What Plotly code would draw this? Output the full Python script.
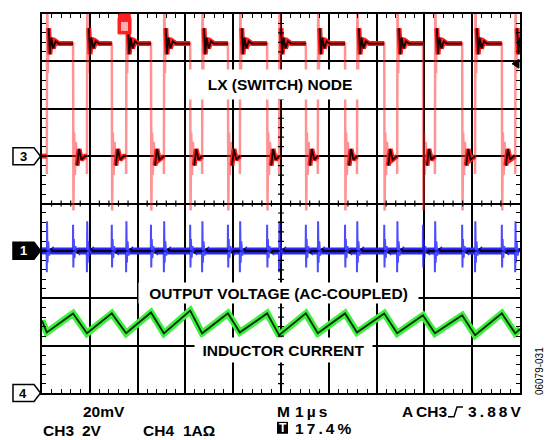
import plotly.graph_objects as go

# LX node edge times in µs (1 µs/div, 10 divisions across)
rise_us = [0.10, 0.94, 1.76, 2.55, 3.35, 4.14, 4.96, 5.77, 6.59, 7.43, 8.22, 9.06, 9.90]
fall_us = [0.65, 1.46, 2.28, 3.10, 3.89, 4.71, 5.52, 6.34, 7.16, 7.97, 8.79, 9.62]

# CH3, LX node (volts)
lx_high_v = 4.75
lx_low_v = 0.0
lx_rise_ring = [(0.000, -0.75), (0.008, 7.5), (0.022, 3.5), (0.040, 5.4), (0.065, 4.3),
                (0.095, 5.0), (0.135, 4.55), (0.185, 4.85), (0.250, 4.75)]
lx_fall_ring = [(0.008, -2.3), (0.022, 1.0), (0.038, -0.8), (0.058, 0.6), (0.085, -0.4),
                (0.125, 0.3), (0.175, -0.15), (0.250, 0.0)]

# CH1, output ripple (mV), spikes at each edge
vout_rise_spike = [(0.000, -9), (0.006, 12.5), (0.016, -5), (0.030, 4), (0.050, -2), (0.080, 1), (0.120, 0)]
vout_fall_spike = [(0.000, 11), (0.006, -7), (0.016, 5), (0.030, -3), (0.050, 2), (0.080, -1), (0.120, 0)]

# CH4, inductor current (A): valleys at LX rising edges, peaks at falling edges
il_start_a = 1.53
il_valley_a = [1.28, 1.26, 1.26, 1.26, 1.26, 1.28, 1.22, 1.26, 1.28, 1.26, 1.26, 1.22, 1.26]
il_peak_a = [1.68, 1.68, 1.70, 1.74, 1.68, 1.68, 1.68, 1.68, 1.68, 1.64, 1.64, 1.68]
il_end_a = 1.35

# channel ground positions (div from bottom) and scales
CH3_GND, CH3_VDIV = 5, 2.0
CH1_GND, CH1_VDIV = 3, 20.0
CH4_GND, CH4_VDIV = 0, 1.0

events = sorted([(t, "r") for t in rise_us] + [(t, "f") for t in fall_us])


def lx_wave():
    xs, ys = [0.0], [lx_low_v]
    cx, cy = [0.0], [lx_low_v]
    for t, kind in events:
        level = lx_low_v if kind == "r" else lx_high_v
        ring = lx_rise_ring if kind == "r" else lx_fall_ring
        core_from = 3 if kind == "r" else 4
        xs.append(t)
        ys.append(level)
        cx += [t, None]
        cy += [level, None]
        for i, (dt, v) in enumerate(ring):
            xs.append(t + dt)
            ys.append(v)
            if i >= core_from:
                cx.append(t + dt)
                cy.append(v)
    xs.append(10.3)
    ys.append(ys[-1])
    cx.append(10.3)
    cy.append(cy[-1])
    div = lambda a: [None if v is None else CH3_GND + v / CH3_VDIV for v in a]
    return xs, div(ys), cx, div(cy)


def vout_wave():
    xs, ys = [0.0], [0.0]
    cx, cy = [0.0], [0.0]
    for t, kind in events:
        spike = vout_rise_spike if kind == "r" else vout_fall_spike
        xs.append(t - 0.004)
        ys.append(0.0)
        cx += [t - 0.004, None]
        cy += [0.0, None]
        for dt, v in spike:
            xs.append(t + dt)
            ys.append(v)
            if abs(v) <= 1:
                cx.append(t + dt)
                cy.append(v)
    xs.append(10.0)
    ys.append(0.0)
    cx.append(10.0)
    cy.append(0.0)
    div = lambda a: [None if v is None else CH1_GND + v / CH1_VDIV for v in a]
    return xs, div(ys), cx, div(cy)


def il_wave():
    xs, ys = [0.0], [il_start_a]
    vi = pi = 0
    for t, kind in events:
        xs.append(t)
        if kind == "r":
            ys.append(il_valley_a[vi])
            vi += 1
        else:
            ys.append(il_peak_a[pi])
            pi += 1
    xs.append(10.0)
    ys.append(il_end_a)
    return xs, [CH4_GND + v / CH4_VDIV for v in ys]


fig = go.Figure()

ix, iy = il_wave()
fig.add_trace(go.Scatter(x=ix, y=iy, mode="lines", line=dict(color="#3df03d", width=7)))
fig.add_trace(go.Scatter(x=ix, y=iy, mode="lines", line=dict(color="#0a2a0a", width=1.8)))

vx, vy, vcx, vcy = vout_wave()
fig.add_trace(go.Scatter(x=vx, y=vy, mode="lines", line=dict(color="rgba(30,30,255,0.8)", width=2)))
fig.add_trace(go.Scatter(x=vcx, y=vcy, mode="lines", line=dict(color="#2828ff", width=7)))
fig.add_trace(go.Scatter(x=vcx, y=vcy, mode="lines", line=dict(color="#05051a", width=2.5)))

lx, ly, lcx, lcy = lx_wave()
fig.add_trace(go.Scatter(x=lx, y=ly, mode="lines", line=dict(color="rgba(255,40,40,0.5)", width=2.5)))
fig.add_trace(go.Scatter(x=lcx, y=lcy, mode="lines", line=dict(color="#ff1a1a", width=5)))
fig.add_trace(go.Scatter(x=lcx, y=lcy, mode="lines", line=dict(color="#1a0000", width=1.8)))

axis_style = dict(
    showgrid=True, gridcolor="black", gridwidth=1.5, zeroline=False,
    showline=True, linecolor="black", linewidth=2, mirror="ticks",
    ticks="", showticklabels=False, dtick=1, fixedrange=True,
    minor=dict(ticks="inside", ticklen=4, tickwidth=1.2, tickcolor="black", dtick=0.2, showgrid=False),
)
fig.update_xaxes(range=[0, 10], **axis_style)
fig.update_yaxes(range=[0, 8], **axis_style)

# ticks on the centre cross
cross = ""
for i in range(1, 50):
    if i % 5:
        x = i * 0.2
        cross += f"M{x:.2f},3.937 L{x:.2f},4.063 "
for i in range(1, 40):
    if i % 5:
        y = i * 0.2
        cross += f"M4.937,{y:.2f} L5.063,{y:.2f} "

shapes = [dict(type="path", xref="x", yref="y", path=cross, line=dict(color="black", width=1.2))]


def px(x):
    return (x - 42) / 478


def py(y):
    return (393 - y) / 381


def poly(points):
    return "M" + " L".join(f"{px(a):.4f},{py(b):.4f}" for a, b in points) + " Z"


def marker(yc, fill):
    return dict(type="path", xref="paper", yref="paper",
                path=poly([(13, yc - 8.5), (34, yc - 8.5), (40.5, yc), (34, yc + 8.5), (13, yc + 8.5)]),
                fillcolor=fill, line=dict(color="black", width=1.5))


shapes += [marker(155, "white"), marker(250, "black"), marker(393, "white")]
# trigger position marker (top) and trigger level marker (right)
shapes.append(dict(type="path", xref="paper", yref="paper",
                   path=poly([(119, 12), (130, 12), (131, 17), (131, 32), (118, 32), (118, 17)]),
                   fillcolor="#ff2020", line=dict(color="#ff2020", width=1)))
shapes.append(dict(type="rect", xref="paper", yref="paper",
                   x0=px(121), x1=px(128), y0=py(29), y1=py(20),
                   fillcolor="#ffb0b0", line=dict(width=0)))
shapes.append(dict(type="path", xref="paper", yref="paper",
                   path=poly([(512, 62), (519, 57.5), (519, 66.5)]),
                   fillcolor="black", line=dict(color="black", width=1)))
# rising edge trigger symbol
shapes.append(dict(type="path", xref="paper", yref="paper",
                   path=f"M{px(448)},{py(417)} L{px(454)},{py(417)} L{px(457)},{py(407)} L{px(463)},{py(407)}",
                   line=dict(color="black", width=1.5)))
# "T" box at the bottom
shapes.append(dict(type="rect", xref="paper", yref="paper",
                   x0=px(277), x1=px(288), y0=py(434), y1=py(422),
                   fillcolor="black", line=dict(width=0)))
fig.update_layout(shapes=shapes)

FONT = "Arial, Liberation Sans, sans-serif"


def label(text, x, y, w, h):
    fig.add_annotation(text=f"<b>{text}</b>", x=px(x), y=py(y), xref="paper", yref="paper",
                       showarrow=False, bgcolor="white", width=w, height=h, borderpad=0,
                       xanchor="center", yanchor="middle",
                       font=dict(family=FONT, size=15.5, color="black"))


label("LX (SWITCH) NODE", 280, 83, 184, 29)
label("OUTPUT VOLTAGE (AC-COUPLED)", 278, 292, 279, 20)
label("INDUCTOR CURRENT", 283, 350, 177, 24)


def txt(text, x, y, size=15.5, color="black", anchor="left"):
    fig.add_annotation(text=f"<b>{text}</b>", x=px(x), y=py(y), xref="paper", yref="paper",
                       showarrow=False, xanchor=anchor, yanchor="middle",
                       font=dict(family=FONT, size=size, color=color))


txt("3", 23, 155, 13, anchor="center")
txt("1", 23, 250, 13, "white", anchor="center")
txt("4", 23, 393, 13, anchor="center")

TS = "\u2009"  # the scope font is a little wider than Arial on these readouts
txt("20mV", 81, 412)
txt("M", 275, 412)
txt(TS.join("1µs"), 293, 412)
txt("A", 400, 412)
txt("CH3", 414, 412)
txt(TS.join("3.88V"), 466, 412)
txt("CH3", 41, 431)
txt("2V", 80, 431)
txt("CH4", 141, 431)
txt("1AΩ", 181, 431)
txt("T", 282.5, 428, 12, "white", anchor="center")
txt(TS.join("17.4%"), 293, 429)

fig.add_annotation(text="06079-031", x=px(539), y=py(371), xref="paper", yref="paper",
                   showarrow=False, textangle=-90, xanchor="center", yanchor="middle",
                   font=dict(family=FONT, size=10, color="black"))

fig.update_layout(
    width=550, height=440,
    margin=dict(l=42, r=30, t=12, b=47),
    plot_bgcolor="white", paper_bgcolor="white",
    showlegend=False,
)

# the page body has a default 8px margin; drop it so the figure sits at the window corner
fig.write_html("out.html", config={"displayModeBar": False},
               post_script="document.body.style.margin='0';")
